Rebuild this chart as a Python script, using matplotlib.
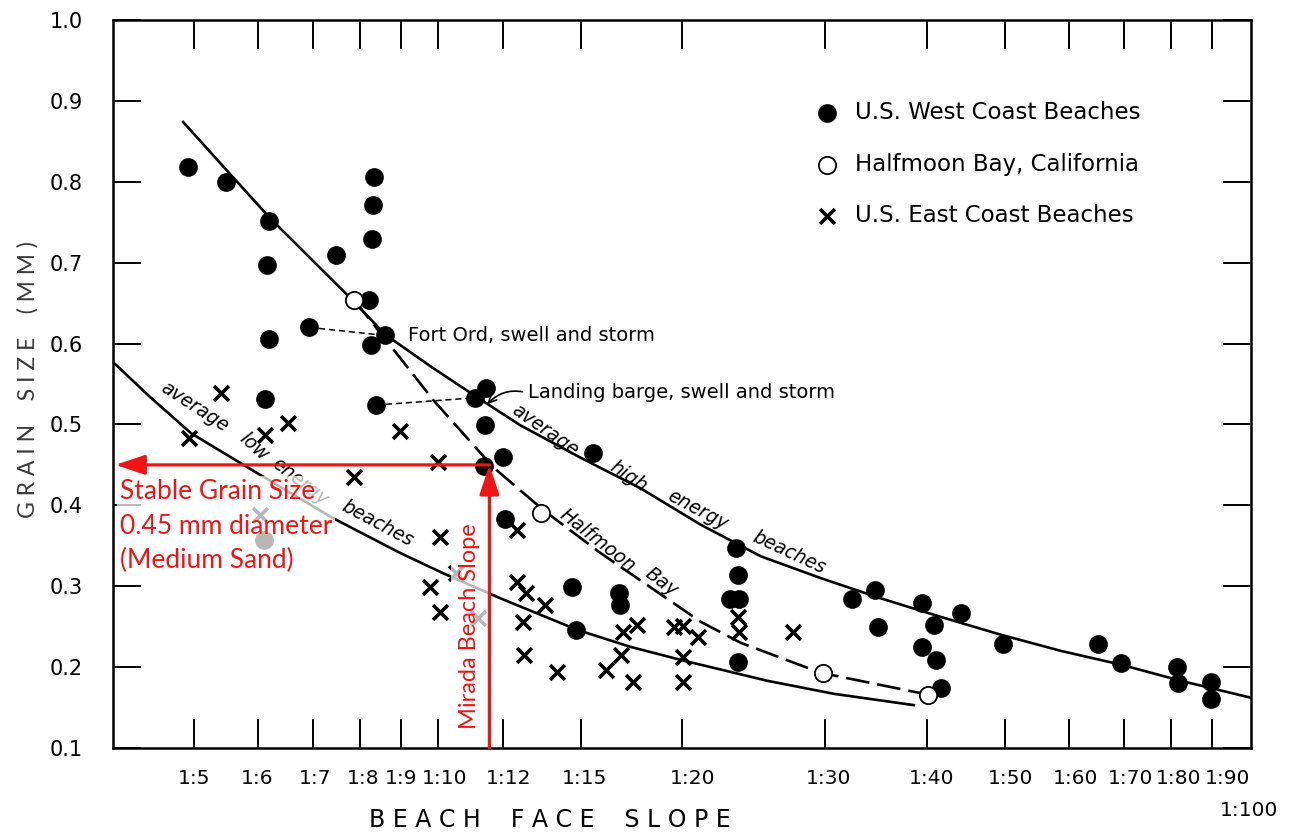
import matplotlib
matplotlib.use("Agg")
import matplotlib.pyplot as plt
import matplotlib.transforms as mtransforms
from matplotlib.ticker import NullLocator

# ---------------- data ----------------
west_slope = [4.91, 5.47, 6.18, 6.15, 6.18, 6.12, 6.10, 7.48, 6.93, 8.34, 8.31, 8.29, 8.22,
              8.26, 8.60, 8.38, 11.11, 11.46, 11.43, 11.37, 12.0, 12.1, 14.63, 14.8, 15.5,
              16.7, 16.75, 23.3, 23.4, 22.9, 23.5, 23.4, 32.4, 34.6, 34.8, 39.5, 40.8, 39.5,
              41.1, 41.7, 44.1, 49.7, 65.1, 69.5, 81.5, 81.7, 89.8, 89.6]
west_size = [0.818, 0.800, 0.751, 0.697, 0.606, 0.532, 0.357, 0.709, 0.620, 0.806, 0.771, 0.729,
             0.654, 0.598, 0.610, 0.524, 0.533, 0.545, 0.499, 0.449, 0.460, 0.383, 0.299, 0.246,
             0.465, 0.292, 0.277, 0.347, 0.314, 0.284, 0.284, 0.206, 0.284, 0.295, 0.250, 0.279,
             0.252, 0.225, 0.209, 0.174, 0.267, 0.229, 0.229, 0.205, 0.200, 0.180, 0.182, 0.161]

halfmoon_slope = [7.87, 13.4, 29.8, 40.2]
halfmoon_size = [0.654, 0.390, 0.193, 0.166]

east_slope = [4.92, 5.40, 6.12, 6.53, 6.03, 7.87, 8.98, 10.0, 10.06, 9.77, 10.06, 10.5, 11.2,
              12.52, 12.5, 12.84, 13.55, 12.7, 12.77, 13.99, 16.9, 17.6, 16.8, 16.1, 17.4,
              19.5, 20.05, 20.9, 20.05, 20.05, 23.4, 23.5, 27.4]
east_size = [0.483, 0.539, 0.487, 0.502, 0.388, 0.435, 0.492, 0.454, 0.361, 0.299, 0.268, 0.316,
             0.261, 0.369, 0.305, 0.292, 0.277, 0.256, 0.215, 0.194, 0.243, 0.252, 0.215, 0.196,
             0.182, 0.250, 0.251, 0.237, 0.212, 0.182, 0.262, 0.243, 0.243]

high_curve_slope = [4.844, 5.474, 6.202, 7.722, 8.603, 9.775, 11.11, 12.62, 14.97, 17.76, 21.07,
                    24.98, 29.62, 35.13, 41.68, 49.41, 58.61, 69.50, 82.41, 100.6]
high_curve_size = [0.874, 0.815, 0.755, 0.660, 0.611, 0.572, 0.535, 0.499, 0.459, 0.421, 0.376,
                   0.337, 0.310, 0.285, 0.262, 0.240, 0.220, 0.203, 0.183, 0.162]

low_curve_slope = [3.971, 4.410, 4.957, 5.861, 7.419, 8.978, 10.14, 11.93, 14.84, 17.26, 20.07,
                   25.48, 30.74, 38.58]
low_curve_size = [0.577, 0.534, 0.489, 0.445, 0.384, 0.341, 0.316, 0.285, 0.246, 0.225, 0.208,
                  0.183, 0.167, 0.153]

halfmoon_curve_slope = [7.87, 8.72, 9.86, 11.69, 13.48, 15.85, 21.07, 23.60, 29.62, 40.16]
halfmoon_curve_size = [0.654, 0.598, 0.530, 0.447, 0.394, 0.341, 0.256, 0.230, 0.193, 0.166]

xtick_values = [5, 6, 7, 8, 9, 10, 12, 15, 20, 30, 40, 50, 60, 70, 80, 90]
xtick_labels = ["1:5", "1:6", "1:7", "1:8", "1:9", "1:10", "1:12", "1:15", "1:20", "1:30",
                "1:40", "1:50", "1:60", "1:70", "1:80", "1:90"]
slope_end_value = 100
slope_end_label = "1:100"
ytick_values = [0.1, 0.2, 0.3, 0.4, 0.5, 0.6, 0.7, 0.8, 0.9, 1.0]
ytick_labels = ["0.1", "0.2", "0.3", "0.4", "0.5", "0.6", "0.7", "0.8", "0.9", "1.0"]

stable_grain_size = 0.45
mirada_slope = 11.56

fort_ord_pair = (8, 14)        # indices into west arrays
landing_barge_pair = (15, 16)  # indices into west arrays

# style
RED = "#f01414"
W, H = 1290, 832
xlabel_shift_px = [0, -1, 2, 3, 0, 6, 6, 3, 10, 3, 5, 5, 6, 7, 8, 15]

# ---------------- figure ----------------
fig = plt.figure(figsize=(W / 100, H / 100), dpi=100)
ax = fig.add_axes([113 / W, 1 - 748 / H, (1251 - 113) / W, (748 - 20) / H])
ax.set_xscale("log")
ax.set_xlim(3.97, 100.5)
ax.set_ylim(0.1, 1.0)

ax.set_xticks(xtick_values)
ax.set_xticklabels(xtick_labels)
ax.xaxis.set_minor_locator(NullLocator())
ax.set_yticks(ytick_values)
ax.set_yticklabels(ytick_labels)

ax.tick_params(axis="both", direction="in", top=True, right=True, width=1.4, color="black")
ax.tick_params(axis="x", length=21, labelsize=14.5, pad=15)
ax.tick_params(axis="y", length=20, labelsize=15, pad=22)
for sp in ax.spines.values():
    sp.set_linewidth(1.8)

for lab, dx in zip(ax.get_xticklabels(), xlabel_shift_px):
    lab.set_transform(lab.get_transform()
                      + mtransforms.ScaledTranslation(dx / 100, 0, fig.dpi_scale_trans))

ax.text(slope_end_value, -0.0865, slope_end_label, fontsize=14.5, ha="center", va="center",
        transform=mtransforms.blended_transform_factory(ax.transData, ax.transAxes),
        clip_on=False)

# curves
ax.plot(high_curve_slope, high_curve_size, color="black", lw=1.9, zorder=2)
ax.plot(low_curve_slope, low_curve_size, color="black", lw=1.9, zorder=2)
ax.plot(halfmoon_curve_slope, halfmoon_curve_size, color="black", lw=1.9,
        dashes=(9, 3), zorder=2)

# connectors
for a, b in (fort_ord_pair, landing_barge_pair):
    ax.plot([west_slope[a], west_slope[b]], [west_size[a], west_size[b]], color="black",
            lw=1.1, dashes=(4, 2.5), zorder=2)

# points
ax.scatter(west_slope, west_size, s=155, c="black", marker="o", zorder=4,
           label="U.S. West Coast Beaches")
ax.scatter(halfmoon_slope, halfmoon_size, s=155, facecolors="white", edgecolors="black",
           linewidths=1.3, marker="o", zorder=4, label="Halfmoon Bay, California")
ax.scatter(east_slope, east_size, s=115, c="black", marker="x", linewidths=2.6, zorder=4,
           label="U.S. East Coast Beaches")

ax.legend(loc="upper left", bbox_to_anchor=(0.617, 0.8885), frameon=False, fontsize=16.5,
          scatterpoints=1, handlelength=1.0, handletextpad=0.75, labelspacing=1.24,
          borderpad=0, borderaxespad=0)

# annotations
ax.text(9.18, 0.610, "Fort Ord, swell and storm", fontsize=14, ha="left", va="center",
        zorder=5)
ax.annotate("Landing barge, swell and storm", xy=(11.49, 0.525), xytext=(12.9, 0.539),
            fontsize=14, ha="left", va="center", zorder=5,
            arrowprops=dict(arrowstyle="->", lw=1.2, color="black", relpos=(0, 0.5),
                            connectionstyle="arc3,rad=0.3", shrinkA=2, shrinkB=0))

curve_labels = [
    ("average", 5.00, 0.5215, -33), ("low", 5.93, 0.472, -42), ("energy", 6.75, 0.429, -38),
    ("beaches", 8.41, 0.378, -28),
    ("average", 13.56, 0.493, -35), ("high", 17.16, 0.435, -34), ("energy", 20.88, 0.394, -28),
    ("beaches", 27.05, 0.342, -25),
    ("Halfmoon", 15.72, 0.357, -38), ("Bay", 18.85, 0.305, -37),
]
for txt, xx, yy, rot in curve_labels:
    ax.text(xx, yy, txt, rotation=rot, rotation_mode="anchor", ha="center", va="center",
            fontsize=13.5, style="italic", zorder=3)

# red overlay
ax.text(0.006, 0.3695, "Stable Grain Size\n0.45 mm diameter\n(Medium Sand)",
        transform=ax.transAxes, ha="left", va="top", color=RED, fontsize=19,
        family="Lato", linespacing=1.48, zorder=5,
        bbox=dict(facecolor="white", edgecolor="none", alpha=0.72, pad=2))
ax.text(10.92, 0.2508, "Mirada Beach Slope", rotation=90, ha="center", va="center",
        color=RED, fontsize=17, family="Lato", zorder=5,
        bbox=dict(facecolor="white", edgecolor="none", alpha=0.72, pad=6))

arrow_kw = dict(arrowstyle="-|>,head_length=0.9,head_width=0.3", color=RED, lw=2.3,
                mutation_scale=20, shrinkA=0, shrinkB=0)
ax.annotate("", xy=(0.002, stable_grain_size), xycoords=("axes fraction", "data"),
            xytext=(mirada_slope, stable_grain_size), textcoords="data",
            arrowprops=arrow_kw, zorder=6)
ax.annotate("", xy=(mirada_slope, stable_grain_size), xytext=(mirada_slope, 0.1),
            arrowprops=arrow_kw, zorder=6)

# axis labels
ax.set_xlabel("B E A C H    F A C E    S L O P E", fontsize=17, va="center")
ax.xaxis.set_label_coords((550 - 113) / 1138, (748 - 820) / 728)
ax.set_ylabel("G R A I N    S I Z E    ( M M )", fontsize=16.5, color="#3a3a3a", family="Lato",
              va="center")
ax.yaxis.set_label_coords((28 - 113) / 1138, (748 - 380) / 728)

fig.savefig("out.png", dpi=100)
